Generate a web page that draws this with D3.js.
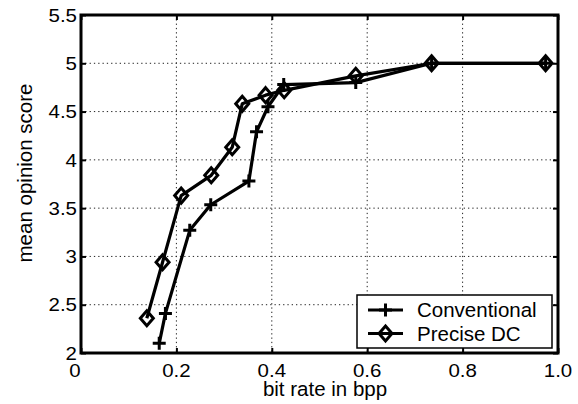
<!DOCTYPE html>
<html>
<head>
<meta charset="utf-8">
<script src="https://cdn.jsdelivr.net/npm/d3@7"></script>
<style>
  body { margin: 0; background: #fff; }
  svg text { font-family: "Liberation Sans", Arial, sans-serif; fill: #000; }
</style>
</head>
<body>
<div id="chart"></div>
<script>
// data
var conventionalX = [0.164, 0.177, 0.228, 0.272, 0.352, 0.368, 0.392, 0.425, 0.576, 0.735, 0.974];
var conventionalY = [2.10, 2.41, 3.27, 3.535, 3.78, 4.29, 4.55, 4.78, 4.80, 5.00, 5.00];
var preciseX = [0.138, 0.171, 0.210, 0.273, 0.317, 0.338, 0.387, 0.426, 0.576, 0.735, 0.974];
var preciseY = [2.36, 2.94, 3.63, 3.84, 4.13, 4.58, 4.67, 4.72, 4.87, 5.00, 5.00];
var seriesNames = ["Conventional", "Precise DC"];
var xTicks = [0, 0.2, 0.4, 0.6, 0.8, 1.0];
var xTickLabels = ["0", "0.2", "0.4", "0.6", "0.8", "1.0"];
var yTicks = [2, 2.5, 3, 3.5, 4, 4.5, 5, 5.5];
var yTickLabels = ["2", "2.5", "3", "3.5", "4", "4.5", "5", "5.5"];

var width = 578, height = 404;
// plot box in pixels (note: "top" is taken by window.top)
var plotLeft = 81, plotRight = 558, plotTop = 15, plotBottom = 353;
var tickFont = 18.6;
var stretch = 1.1; // tick labels are a bit wider than tall
var titleFont = 20.5;

var svg = d3.select('#chart').append('svg')
  .attr('width', width)
  .attr('height', height);

var x = d3.scaleLinear().domain([0, 1]).range([plotLeft, plotRight]);
var y = d3.scaleLinear().domain([2, 5.5]).range([plotBottom, plotTop]);

function label(g, tx, ty, str, anchor, size, sx) {
  return g.append('text')
    .attr('transform', 'translate(' + tx + ',' + ty + ') scale(' + sx + ',1)')
    .attr('text-anchor', anchor)
    .attr('font-size', size)
    .text(str);
}

// dotted grid
var grid = svg.append('g').attr('class', 'grid')
  .attr('stroke', '#222')
  .attr('stroke-width', 1)
  .attr('stroke-dasharray', '1.3,3');
grid.selectAll('.gx').data(xTicks.slice(1, -1)).enter().append('line')
  .attr('x1', function (d) { return x(d); })
  .attr('x2', function (d) { return x(d); })
  .attr('y1', plotTop).attr('y2', plotBottom);
grid.selectAll('.gy').data(yTicks.slice(1, -1)).enter().append('line')
  .attr('y1', function (d) { return y(d); })
  .attr('y2', function (d) { return y(d); })
  .attr('x1', plotLeft).attr('x2', plotRight);

// axes with inward ticks on all four sides
var axes = svg.append('g').attr('class', 'axes');
axes.append('g').attr('transform', 'translate(0,' + plotBottom + ')')
  .call(d3.axisBottom(x).tickValues(xTicks).tickSizeInner(-5).tickSizeOuter(0).tickFormat(''));
axes.append('g').attr('transform', 'translate(0,' + plotTop + ')')
  .call(d3.axisTop(x).tickValues(xTicks).tickSizeInner(-5).tickSizeOuter(0).tickFormat(''));
axes.append('g').attr('transform', 'translate(' + plotLeft + ',0)')
  .call(d3.axisLeft(y).tickValues(yTicks).tickSizeInner(-5).tickSizeOuter(0).tickFormat(''));
axes.append('g').attr('transform', 'translate(' + plotRight + ',0)')
  .call(d3.axisRight(y).tickValues(yTicks).tickSizeInner(-5).tickSizeOuter(0).tickFormat(''));
axes.selectAll('.domain').remove();
axes.selectAll('.tick line').attr('stroke', '#000').attr('stroke-width', 2);
svg.append('rect')
  .attr('x', plotLeft).attr('y', plotTop)
  .attr('width', plotRight - plotLeft).attr('height', plotBottom - plotTop)
  .attr('fill', 'none').attr('stroke', '#000').attr('stroke-width', 3);

// tick labels (the "0" sits a little left of its tick, as in the original)
var labels = svg.append('g');
xTicks.forEach(function (t, i) {
  label(labels, x(t) - (i === 0 ? 6 : 0), 377, xTickLabels[i], 'middle', tickFont, stretch);
});
yTicks.forEach(function (t, i) {
  label(labels, 77, y(t) + 6.7, yTickLabels[i], 'end', tickFont, stretch);
});
label(labels, 325, 396, 'bit rate in bpp', 'middle', titleFont, 1);
svg.append('text')
  .attr('transform', 'translate(32,173) rotate(-90)')
  .attr('text-anchor', 'middle')
  .attr('font-size', titleFont)
  .text('mean opinion score');

// markers
function plusPath(s) {
  return 'M' + (-s) + ',0H' + s + 'M0,' + (-s) + 'V' + s;
}
function diamondPath(w, h) {
  return 'M0,' + (-h) + 'L' + w + ',0L0,' + h + 'L' + (-w) + ',0Z';
}

var series = [
  { xs: conventionalX, ys: conventionalY, marker: plusPath(6.5) },
  { xs: preciseX, ys: preciseY, marker: diamondPath(6.5, 7.5) }
];

var line = d3.line()
  .x(function (d) { return x(d[0]); })
  .y(function (d) { return y(d[1]); });

series.forEach(function (s) {
  var pts = d3.zip(s.xs, s.ys);
  var g = svg.append('g');
  g.append('path')
    .attr('d', line(pts))
    .attr('fill', 'none')
    .attr('stroke', '#000')
    .attr('stroke-width', 3.2)
    .attr('stroke-linejoin', 'round');
  g.selectAll('.m').data(pts).enter().append('path')
    .attr('transform', function (d) { return 'translate(' + x(d[0]) + ',' + y(d[1]) + ')'; })
    .attr('d', s.marker)
    .attr('fill', 'none')
    .attr('stroke', '#000')
    .attr('stroke-width', 3);
});

// legend
var legend = svg.append('g');
legend.append('rect')
  .attr('x', 357).attr('y', 295)
  .attr('width', 195).attr('height', 53)
  .attr('fill', '#fff').attr('stroke', '#000').attr('stroke-width', 1.5);
seriesNames.forEach(function (name, i) {
  var ly = 310 + i * 23.5;
  legend.append('line')
    .attr('x1', 368).attr('x2', 403).attr('y1', ly).attr('y2', ly)
    .attr('stroke', '#000').attr('stroke-width', 3);
  legend.append('path')
    .attr('transform', 'translate(385.5,' + ly + ')')
    .attr('d', series[i].marker)
    .attr('fill', 'none').attr('stroke', '#000').attr('stroke-width', 3);
  label(legend, 417, ly + 7.3, name, 'start', titleFont, 1);
});
</script>
</body>
</html>
